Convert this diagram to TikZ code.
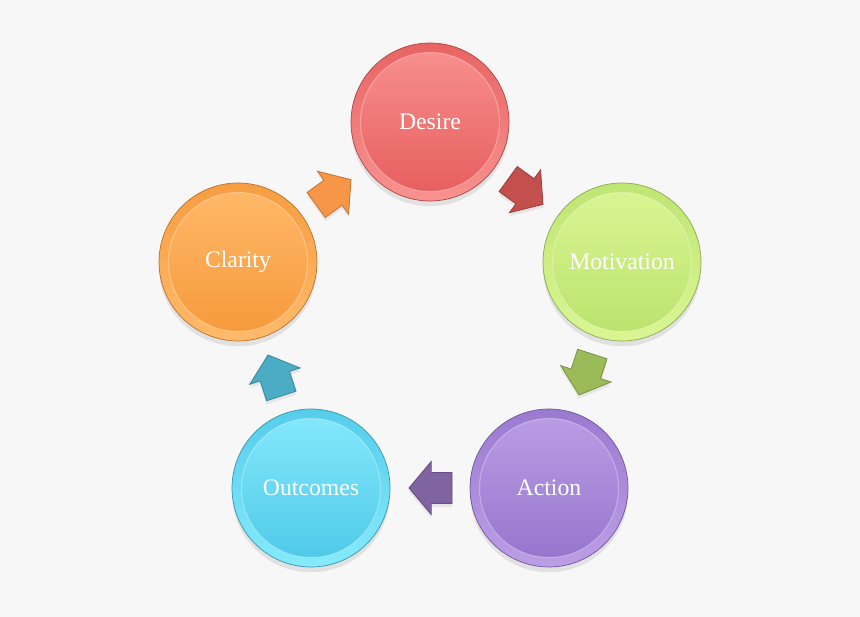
\documentclass[tikz,border=0pt]{standalone}
\usepackage{fontspec}
\setmainfont{Liberation Serif}
\usepackage{xcolor}
\usepackage{tikz}
\usetikzlibrary{shapes.arrows,shadows,calc,positioning}
\definecolor{pagebg}{RGB}{247,247,247}
\definecolor{deslight}{RGB}{248,146,144}
\definecolor{desdark}{RGB}{230,92,92}
\definecolor{motlight}{RGB}{218,246,148}
\definecolor{motdark}{RGB}{186,226,108}
\definecolor{actlight}{RGB}{188,158,230}
\definecolor{actdark}{RGB}{148,116,204}
\definecolor{outlight}{RGB}{134,234,252}
\definecolor{outdark}{RGB}{76,200,232}
\definecolor{clalight}{RGB}{255,186,106}
\definecolor{cladark}{RGB}{246,152,58}
\definecolor{redarrow}{RGB}{196,80,78}
\definecolor{greenarrow}{RGB}{155,187,89}
\definecolor{purplearrow}{RGB}{128,100,162}
\definecolor{bluearrow}{RGB}{75,172,198}
\definecolor{orangearrow}{RGB}{247,150,70}

\begin{document}
\begin{tikzpicture}[
    x=0.02cm, y=-0.02cm,
    bubble/.style 2 args={circle, minimum size=3.16cm, inner sep=0pt,
        draw=#2!75!black, line width=0.4pt,
        top color=#2!85!#1, bottom color=#1,
        drop shadow={opacity=0.18, shadow xshift=0pt, shadow yshift=-3pt},
        path picture={
            \shade[top color=#1, bottom color=#2, draw=white, draw opacity=0.3, line width=0.6pt]
                (path picture bounding box.center) circle (1.39cm);
        },
        text=white, font=\fontsize{13.5}{16}\selectfont},
    blockarrow/.style 2 args={single arrow, draw=#1!80!black, fill=#1, line width=0.5pt,
        minimum height=0.86cm, inner xsep=0.2cm, inner ysep=0.3cm,
        single arrow head extend=0.22cm, single arrow tip angle=100,
        rotate=#2, xshift=-0.14cm,
        drop shadow={opacity=0.15, shadow xshift=0pt, shadow yshift=-2pt}}
]

\fill[pagebg] (0,0) rectangle (860,617);
\useasboundingbox (0,0) rectangle (860,617);

% cycle of circles
\node[bubble={deslight}{desdark}] (desire) at (430,122) {Desire};
\node[bubble={motlight}{motdark}] (motivation) at (622,262) {Motivation};
\node[bubble={actlight}{actdark}] (action) at (549,488) {Action};
\node[bubble={outlight}{outdark}] (outcomes) at (311,488) {Outcomes};
\node[bubble={clalight}{cladark}] (clarity) at (238,262) {Clarity};

% block arrows between them
\node[blockarrow={redarrow}{-36}] (desmot) at ($(desire)!0.5!(motivation)$) {};
\node[blockarrow={greenarrow}{-108}] (motact) at ($(motivation)!0.5!(action)$) {};
\node[blockarrow={purplearrow}{180}] (actout) at ($(action)!0.5!(outcomes)$) {};
\node[blockarrow={bluearrow}{108}] (outcla) at ($(outcomes)!0.5!(clarity)$) {};
\node[blockarrow={orangearrow}{36}] (clades) at ($(clarity)!0.5!(desire)$) {};

\end{tikzpicture}
\end{document}
